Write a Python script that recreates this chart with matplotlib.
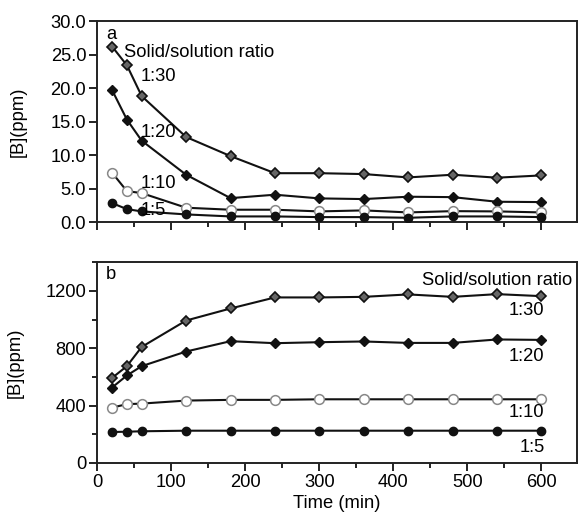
import matplotlib
matplotlib.use("Agg")
import matplotlib.pyplot as plt
from matplotlib.ticker import MultipleLocator

plt.rcParams['font.family'] = ['Liberation Sans', 'DejaVu Sans']

time = [20, 40, 60, 120, 180, 240, 300, 360, 420, 480, 540, 600]

# Panel a
a_130 = [26.2, 23.4, 18.8, 12.7, 9.85, 7.3, 7.3, 7.17, 6.67, 7.07, 6.63, 6.97]
a_120 = [19.7, 15.3, 12.15, 7.07, 3.58, 4.09, 3.54, 3.44, 3.79, 3.73, 3.04, 2.99]
a_110 = [7.37, 4.63, 4.33, 2.15, 1.85, 1.85, 1.6, 1.75, 1.45, 1.64, 1.6, 1.45]
a_15 = [2.84, 1.94, 1.6, 1.15, 0.85, 0.85, 0.75, 0.75, 0.65, 0.85, 0.85, 0.75]

# Panel b
b_130 = [593, 675, 809, 993, 1077, 1154, 1154, 1158, 1175, 1158, 1177, 1163]
b_120 = [526, 610, 675, 777, 849, 835, 842, 847, 837, 837, 861, 858]
b_110 = [386, 410, 414, 435, 440, 440, 444, 444, 444, 444, 444, 444]
b_15 = [216, 218, 221, 225, 225, 225, 225, 225, 225, 225, 225, 225]

ratio_labels = ['1:30', '1:20', '1:10', '1:5']

fig = plt.figure(figsize=(5.79, 5.13), dpi=100)
ax1 = fig.add_axes([0.168, 0.567, 0.8285, 0.392])
ax2 = fig.add_axes([0.168, 0.0975, 0.8285, 0.3915])

FS = 13.2

def style(series, ax):
    s130, s120, s110, s15 = series
    lk = dict(color='#111111', lw=1.5, zorder=3)
    ax.plot(time, s130, marker='D', ms=4.6, mfc='#666666', mec='#111111', mew=1.2, **lk)
    ax.plot(time, s120, marker='D', ms=4.6, mfc='#111111', mec='#111111', **lk)
    ax.plot(time, s110, marker='o', ms=7, mfc='white', mec='#888888', mew=1.1, **lk)
    ax.plot(time, s15, marker='o', ms=6, mfc='#111111', mec='#111111', **lk)
    ax.set_xlim(0, 648)
    ax.xaxis.set_major_locator(MultipleLocator(100))
    ax.xaxis.set_minor_locator(MultipleLocator(50))
    for sp in ax.spines.values():
        sp.set_linewidth(1.4)
        sp.set_color('#222222')
    ax.tick_params(which='major', direction='out', length=6, width=1.4, labelsize=FS, color='#222222', pad=2)
    ax.tick_params(which='minor', direction='out', length=3.5, width=1.4, color='#222222')

style([a_130, a_120, a_110, a_15], ax1)
ax1.set_ylim(0, 30)
ax1.yaxis.set_major_locator(MultipleLocator(5))
ax1.yaxis.set_major_formatter(matplotlib.ticker.FormatStrFormatter('%.1f'))
ax1.tick_params(axis='x', labelbottom=False)
ax1.set_ylabel('[B](ppm)', fontsize=FS)
ax1.yaxis.set_label_coords(-0.147, 0.5)
ax1.text(12, 29.3, 'a', fontsize=FS, va='top', ha='left')
ax1.text(36, 25.3, 'Solid/solution ratio', fontsize=FS, va='center', ha='left')
for lab, yy in zip(ratio_labels, [21.7, 13.4, 5.8, 1.75]):
    ax1.text(58, yy, lab, fontsize=FS, va='center', ha='left')

style([b_130, b_120, b_110, b_15], ax2)
ax2.set_ylim(0, 1400)
ax2.yaxis.set_major_locator(MultipleLocator(400))
ax2.yaxis.set_minor_locator(MultipleLocator(200))
ax2.set_ylabel('[B](ppm)', fontsize=FS)
ax2.yaxis.set_label_coords(-0.153, 0.5)
ax2.set_xlabel('Time (min)', fontsize=FS, labelpad=3)
ax2.text(12, 1370, 'b', fontsize=FS, va='top', ha='left')
ax2.text(641, 1270, 'Solid/solution ratio', fontsize=FS, va='center', ha='right')
for lab, yy in zip(ratio_labels, [1060, 740, 349, 107]):
    ax2.text(604, yy, lab, fontsize=FS, va='center', ha='right')

fig.savefig('out.png', dpi=100)
